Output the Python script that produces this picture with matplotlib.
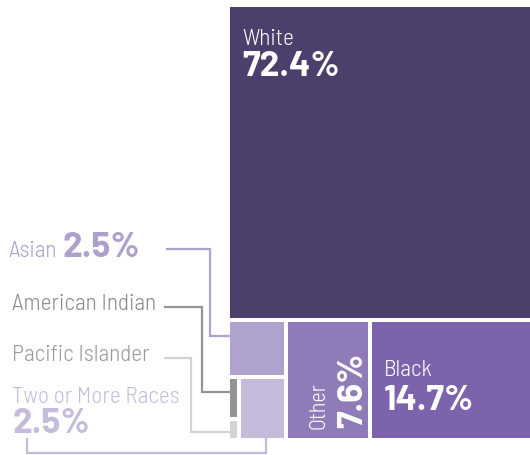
import matplotlib
matplotlib.use("Agg")
import matplotlib.pyplot as plt
from matplotlib.patches import Rectangle

# Race shares (%)
races = ["White", "Black", "Other", "Asian", "Two or More Races",
         "American Indian", "Pacific Islander"]
shares = [72.4, 14.7, 7.6, 2.5, 2.5, 0.2, 0.1]
labels = ["72.4%", "14.7%", "7.6%", "2.5%", "2.5%", "", ""]
box_colors = ["#4b3f6b", "#7d63ab", "#8f7bb8", "#b0a2cf", "#c5bcdc",
              "#949494", "#d3d3d3"]
text_colors = ["#ffffff", "#ffffff", "#ffffff", "#ada0cc", "#c5bcdc",
               "#8a8a8a", "#9a9a9a"]

v = dict(zip(races, shares))
col = dict(zip(races, box_colors))
tcol = dict(zip(races, text_colors))
lab = dict(zip(races, labels))

LIGHT = "Barlow Semi Condensed"
BOLD = "Barlow"
LSIZE = 16.8
NSIZE = 25.5

fig = plt.figure(figsize=(5.30, 4.55), dpi=100)
ax = fig.add_axes([0, 0, 1, 1])
ax.set_xlim(0, 530)
ax.set_ylim(455, 0)
ax.axis("off")

# treemap area (pixels) and gap between cells
X0, X1, Y0, Y1, G = 230, 530, 7, 438, 4
W = X1 - X0 + G
H = Y1 - Y0 + G
total = sum(shares)
rects = {}

def cell(name, x, y, w, h):
    rects[name] = (x, y, w - G, h - G)
    ax.add_patch(Rectangle((x, y), w - G, h - G, facecolor=col[name],
                           edgecolor="none"))

# White on top, full width
hw = H * v["White"] / total
cell("White", X0, Y0, W, hw)

# bottom strip: small group | Other | Black
ys, hs = Y0 + hw, H - hw
small = v["Asian"] + v["Two or More Races"] + v["American Indian"] + v["Pacific Islander"]
strip = small + v["Other"] + v["Black"]
w_small = W * small / strip
w_other = W * v["Other"] / strip
w_black = W * v["Black"] / strip
cell("Other", X0 + w_small, ys, w_other, hs)
cell("Black", X0 + w_small + w_other, ys, w_black, hs)

# small group: Asian on top, then tiny column + Two or More Races
h_asian = hs * v["Asian"] / small
cell("Asian", X0, ys, w_small, h_asian)
yb, hb = ys + h_asian, hs - h_asian
tiny = v["American Indian"] + v["Pacific Islander"]
w_tiny = max(w_small * tiny / (tiny + v["Two or More Races"]), 11)
cell("Two or More Races", X0 + w_tiny, yb, w_small - w_tiny, hb)
h_ai = hb * v["American Indian"] / tiny
cell("American Indian", X0, yb, w_tiny, h_ai)
cell("Pacific Islander", X0, yb + h_ai, w_tiny, hb - h_ai)

# labels inside boxes
x, y, w, h = rects["White"]
ax.text(x + 12, 45, "White", family=LIGHT, weight=300, fontsize=LSIZE,
        color="white", va="baseline")
ax.text(x + 12, 76, lab["White"], family=BOLD, weight="bold", fontsize=NSIZE,
        color="white", va="baseline")

x, y, w, h = rects["Black"]
ax.text(x + 12, 376, "Black", family=LIGHT, weight=300, fontsize=LSIZE,
        color="white", va="baseline")
ax.text(x + 12, 410, lab["Black"], family=BOLD, weight="bold", fontsize=NSIZE,
        color="white", va="baseline")

x, y, w, h = rects["Other"]
ax.text(324, y + h - 9, "Other", family=LIGHT, weight=300, fontsize=16,
        color="white", rotation=90, rotation_mode="anchor", ha="left",
        va="baseline")
ax.text(362, y + h - 10, lab["Other"], family=BOLD, weight="bold",
        fontsize=NSIZE, color="white", rotation=90, rotation_mode="anchor",
        ha="left", va="baseline")

# outside labels
ax.text(8, 257, "Asian", family=LIGHT, weight=300, fontsize=LSIZE,
        color=tcol["Asian"], va="baseline")
ax.text(63, 257, lab["Asian"], family=BOLD, weight="bold", fontsize=NSIZE,
        color=tcol["Asian"], va="baseline")
ax.text(12, 310, "American Indian", family=LIGHT, weight=300, fontsize=LSIZE,
        color=tcol["American Indian"], va="baseline")
ax.text(12, 361, "Pacific Islander", family=LIGHT, weight=300, fontsize=LSIZE,
        color=tcol["Pacific Islander"], va="baseline")
ax.text(12, 403, "Two or More Races", family=LIGHT, weight=300, fontsize=LSIZE,
        color=tcol["Two or More Races"], va="baseline")
ax.text(12, 433, lab["Two or More Races"], family=BOLD, weight="bold",
        fontsize=NSIZE, color=tcol["Two or More Races"], va="baseline")

# leader lines
lw = 1.6
x, y, w, h = rects["Asian"]
ax.plot([167, 210, 210, x], [249, 249, 336, 336], color=col["Asian"],
        lw=lw, solid_joinstyle="miter")
x, y, w, h = rects["American Indian"]
ax.plot([165, 202, 202, x], [307, 307, 392, 392],
        color=col["American Indian"], lw=lw, solid_joinstyle="miter")
x, y, w, h = rects["Pacific Islander"]
ax.plot([165, 191, 191, x], [358, 358, 432, 432],
        color=col["Pacific Islander"], lw=lw, solid_joinstyle="miter")
x, y, w, h = rects["Two or More Races"]
ax.plot([27, 27, 266, 266], [439, 453, 453, y + h],
        color=col["Two or More Races"], lw=lw, solid_joinstyle="miter")

fig.savefig("out.png", dpi=100)
